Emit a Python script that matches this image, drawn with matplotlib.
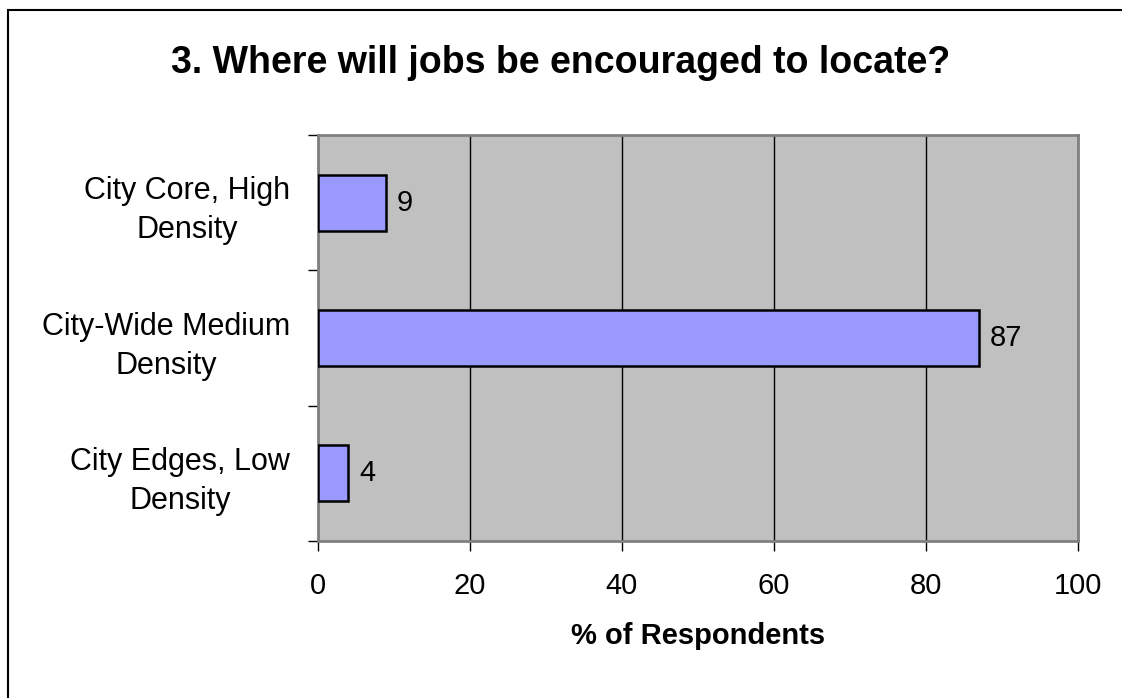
import matplotlib.pyplot as plt
import matplotlib.patches as mpatches
import numpy as np

plt.rcParams['font.family'] = ['Liberation Sans', 'DejaVu Sans']

# data
categories = ['City Core, High\nDensity', 'City-Wide Medium\nDensity', 'City Edges, Low\nDensity']
values = [9, 87, 4]
xticks = [0, 20, 40, 60, 80, 100]

fig = plt.figure(figsize=(11.22, 6.98), dpi=100)
fig.patch.set_facecolor('white')

# frame around the whole chart
fig.patches.append(mpatches.Rectangle((8 / 1122, -0.01), 1.02, 1 - 10 / 698 + 0.01,
                                      transform=fig.transFigure, fill=False,
                                      edgecolor='black', linewidth=1.5))

ax = fig.add_axes([318 / 1122, 1 - 541 / 698, 760 / 1122, 406 / 698])
ax.set_facecolor('#C0C0C0')

y = np.arange(len(categories))
ax.barh(y, values, height=0.415, color='#9999FF', edgecolor='black', linewidth=1.8, zorder=3)
for yi, v in zip(y, values):
    ax.text(v + 1.4, yi, str(v), va='center', ha='left', fontsize=21, zorder=4)

ax.set_xlim(0, 100)
ax.set_ylim(len(categories) - 0.5, -0.5)
ax.set_xticks(xticks)
ax.set_xticklabels([str(t) for t in xticks])
ax.set_yticks(y)
ax.set_yticklabels(categories, multialignment='center', linespacing=1.4)
ax.set_yticks(np.arange(-0.5, len(categories)), minor=True)

ax.xaxis.grid(True, color='black', linewidth=1, zorder=1)
ax.set_axisbelow(True)

ax.tick_params(axis='y', which='major', length=0, pad=20, labelsize=22)
ax.tick_params(axis='y', which='minor', length=7, width=1, direction='out', color='black')
ax.tick_params(axis='x', which='major', length=7, width=1, direction='out', pad=15, labelsize=21)

for s in ax.spines.values():
    s.set_color('#808080')
    s.set_linewidth(2)

ax.set_xlabel('% of Respondents', fontsize=21, fontweight='bold', labelpad=16)
fig.text(0.5, 1 - 73 / 698, '3. Where will jobs be encouraged to locate?',
         ha='center', va='baseline', fontsize=27, fontweight='bold')

fig.savefig('out.png', dpi=100, facecolor='white')
